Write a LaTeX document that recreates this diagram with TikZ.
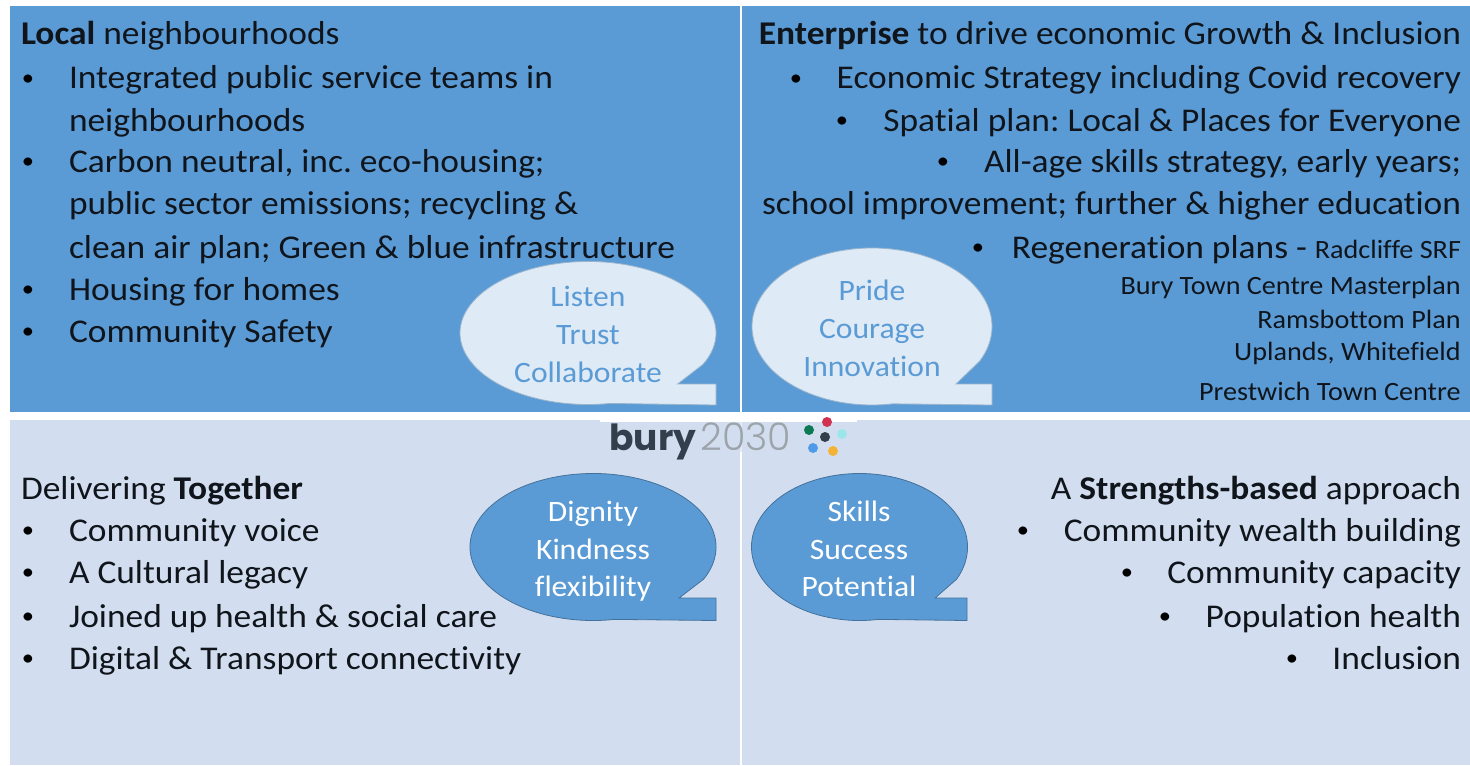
\documentclass[tikz,border=0pt]{standalone}
\usepackage{fontspec}
\setmainfont{Carlito}[FakeStretch=1.067,Ligatures=NoCommon]
\newfontfamily\logofont{Poppins}
\newfontfamily\logolight{Poppins Light}
\frenchspacing
\definecolor{panelblue}{HTML}{5B9BD5}
\definecolor{panellight}{HTML}{D2DEEF}
\definecolor{bubblelight}{HTML}{DEEAF6}
\definecolor{bubbleedge}{HTML}{44719B}
\definecolor{inktext}{HTML}{10151C}
\definecolor{logodark}{HTML}{333F4D}
\definecolor{logogrey}{HTML}{9CA3AA}
\definecolor{dotred}{HTML}{D0324F}
\definecolor{dotgreen}{HTML}{0B7A55}
\definecolor{dotcyan}{HTML}{9BE6EA}
\definecolor{dotblue}{HTML}{4E9BE8}
\definecolor{dotyellow}{HTML}{F5B335}
\tikzset{
  panelA/.style={fill=panelblue,draw=none},
  panelB/.style={fill=panellight,draw=none},
  txt/.style={font=\fontsize{16.6}{20}\selectfont,text=inktext,inner sep=0pt,outer sep=0pt,yshift=-0.5pt},
  ltxt/.style={txt,anchor=base west},
  rtxt/.style={txt,anchor=base east},
  bul/.style={font=\fontsize{11.5}{13}\selectfont,text=black,inner sep=0pt,anchor=base},
  small/.style={font=\fontsize{13.2}{15}\selectfont,text=inktext,inner sep=0pt,anchor=base east},
  btxtA/.style={font=\fontsize{14.8}{18}\selectfont,text=panelblue,inner sep=0pt,anchor=base,yshift=-0.5pt},
  btxtB/.style={font=\fontsize{14.8}{18}\selectfont,text=white,inner sep=0pt,anchor=base},
  bubA/.style={fill=bubblelight,draw=bubbleedge!45!bubblelight,line width=.4pt},
  bubB/.style={fill=panelblue,draw=bubbleedge,line width=.4pt},
  logodot/.style={circle,inner sep=0pt,minimum size=5pt,draw=none},
}
% cx cy rx ry right bottom style
\newcommand{\speechbub}[7]{%
  \draw[#7] ({#1+#3*cos(26)},{#2+#4*sin(26)})
    arc[start angle=26,end angle=-280,x radius=#3,y radius=#4]
    -- (#5,#6) -- (#5,\tailtop) -- ({#1+#3*0.70},\tailtop) -- cycle;}
\begin{document}
\begin{tikzpicture}[x=0.5pt,y=0.5pt,yscale=-1]
\useasboundingbox (0,0) rectangle (1470,765);
\fill[white] (0,0) rectangle (1470,765);
\fill[panelA] (10,6) rectangle (739.5,412);
\fill[panelA] (742,6) rectangle (1470,412);
\fill[panelB] (10,420) rectangle (739.5,765);
\fill[panelB] (742,420) rectangle (1470,765);
\fill[white] (600,418) rectangle (857,422);
\fill[panelB,opacity=.6] (739.5,422) rectangle (742,452);

% top-left
\node[ltxt] (tl0) at (21,44) {\textbf{Local} neighbourhoods};
\node[bul] (tl1b) at (28,85) {•};
\node[ltxt] (tl1) at (69,88) {Integrated public service teams in};
\node[ltxt] (tl2) at (69,130) {neighbourhoods};
\node[bul] (tl3b) at (28,168) {•};
\node[ltxt] (tl3) at (69,171) {Carbon neutral, inc. eco-housing;};
\node[ltxt] (tl4) at (69,213) {public sector emissions; recycling \&};
\node[ltxt] (tl5) at (69,257) {clean air plan; Green \& blue infrastructure};
\node[bul] (tl6b) at (28,296) {•};
\node[ltxt] (tl6) at (69,299) {Housing for homes};
\node[bul] (tl7b) at (28,338) {•};
\node[ltxt] (tl7) at (69,341) {Community Safety};

% top-right
\node[rtxt] (tr0) at (1461,44) {\textbf{Enterprise} to drive economic Growth \& Inclusion};
\node[rtxt] (tr1) at (1461,88) {Economic Strategy including Covid recovery};
\node[bul] (tr1b) at (796,85) {•};
\node[rtxt] (tr2) at (1461,130) {Spatial plan: Local \& Places for Everyone};
\node[bul] (tr2b) at (842,127) {•};
\node[rtxt] (tr3) at (1461,171) {All-age skills strategy, early years;};
\node[bul] (tr3b) at (943,168) {•};
\node[rtxt] (tr4) at (1461,213) {school improvement; further \& higher education};
\node[rtxt] (tr5s) at (1461,257) {\fontsize{13.2}{15}\selectfont Radcliffe SRF};
\node[rtxt] (tr5) at (1307,257) {Regeneration plans -};
\node[bul] (tr5b) at (978,254) {•};
\node[small] (tr6) at (1461,294) {Bury Town Centre Masterplan};
\node[small] (tr7) at (1461,328) {Ramsbottom Plan};
\node[small] (tr8) at (1461,360) {Uplands, Whitefield};
\node[small] (tr9) at (1461,400) {Prestwich Town Centre};

% bottom-left
\node[ltxt] (bl0) at (21,498) {Delivering \textbf{Together}};
\node[bul] (bl1b) at (28,537) {•};
\node[ltxt] (bl1) at (69,540) {Community voice};
\node[bul] (bl2b) at (28,579) {•};
\node[ltxt] (bl2) at (69,582) {A Cultural legacy};
\node[bul] (bl3b) at (28,623) {•};
\node[ltxt] (bl3) at (69,626) {Joined up health \& social care};
\node[bul] (bl4b) at (28,665) {•};
\node[ltxt] (bl4) at (69,668) {Digital \& Transport connectivity};

% bottom-right
\node[rtxt] (br0) at (1461,498) {A \textbf{Strengths-based} approach};
\node[rtxt] (br1) at (1461,540) {Community wealth building};
\node[bul] (br1b) at (1023,537) {•};
\node[rtxt] (br2) at (1461,582) {Community capacity};
\node[bul] (br2b) at (1127,579) {•};
\node[rtxt] (br3) at (1461,626) {Population health};
\node[bul] (br3b) at (1165,623) {•};
\node[rtxt] (br4) at (1461,668) {Inclusion};
\node[bul] (br4b) at (1292,665) {•};

% speech bubbles
\def\tailtop{384}
\speechbub{588}{333}{128}{71.5}{716}{405}{bubA}
\speechbub{872}{326.5}{120}{78.5}{992}{405}{bubA}
\def\tailtop{598}
\speechbub{593}{547}{123}{73.5}{716}{620.5}{bubB}
\speechbub{859.5}{547}{108}{73.5}{967}{620.5}{bubB}

\node[btxtA] (b1a) at (588,305) {Listen};
\node[btxtA] (b1b) at (588,343) {Trust};
\node[btxtA] (b1c) at (588,381) {Collaborate};
\node[btxtA] (b2a) at (872,299) {Pride};
\node[btxtA] (b2b) at (872,337) {Courage};
\node[btxtA] (b2c) at (872,375) {Innovation};
\node[btxtB] (b3a) at (593,521) {Dignity};
\node[btxtB] (b3b) at (593,559) {Kindness};
\node[btxtB] (b3c) at (593,596) {flexibility};
\node[btxtB] (b4a) at (859,521) {Skills};
\node[btxtB] (b4b) at (859,559) {Success};
\node[btxtB] (b4c) at (859,596) {Potential};

% logo
\node[inner sep=0pt,anchor=base west,font=\logofont\bfseries\fontsize{18}{22}\selectfont,text=logodark] (lg1) at (609,450) {bury};
\node[inner sep=0pt,anchor=base west,font=\logolight\fontsize{19}{22}\selectfont,text=logogrey] (lg2) at (700,450) {2030};
\node[logodot,fill=dotred] (d1) at (827,422) {};
\node[logodot,fill=dotgreen] (d2) at (809,430) {};
\node[logodot,fill=logodark] (d3) at (825,437) {};
\node[logodot,fill=dotcyan] (d4) at (842,434) {};
\node[logodot,fill=dotblue] (d5) at (813,448) {};
\node[logodot,fill=dotyellow] (d6) at (833,451) {};
\end{tikzpicture}
\end{document}
